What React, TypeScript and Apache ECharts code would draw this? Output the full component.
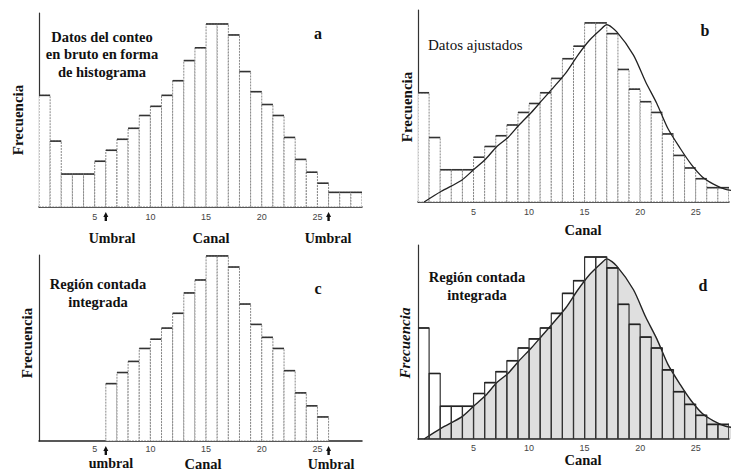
import React, { useEffect, useRef } from "react";
import * as echarts from "echarts";

// Counts per channel (channels 0..28)
const channels = [0, 1, 2, 3, 4, 5, 6, 7, 8, 9, 10, 11, 12, 13, 14, 15, 16, 17, 18, 19, 20, 21, 22, 23, 24, 25, 26, 27, 28];
const counts = [61, 36, 18, 18, 18, 25, 31, 37, 43, 50, 55, 61, 69, 80, 87, 100, 100, 94, 74, 63, 56, 50, 38, 26, 19, 13, 8, 8, 8];
// Thresholds (Umbral)
const thresholds = [6, 26];
// Fitted curve
const fitX = [0.55, 2.1, 3.9, 5, 6.1, 7.1, 8.1, 9.1, 10.2, 11.2, 12.2, 13.3, 14.4, 15.4, 16.4, 17, 17.9, 19.4, 20.5, 21.5, 22.5, 23.6, 24.6, 25.6, 26.6, 27.7, 28.8];
const fitY = [0, 6, 12, 18, 24, 31, 36, 43, 50, 57, 64, 72, 82, 90, 96, 99, 95, 82, 67, 55, 41, 30, 21, 14, 10, 7, 6];
const tickLabels = ["5", "10", "15", "20", "25"];

const SERIF = "'Liberation Serif', 'DejaVu Serif', serif";

function histRender(opts: { fill: string; stroke: string; lineWidth: number; dash?: number[]; top: string }) {
  return (params: any, api: any) => {
    const k = api.value(0);
    const v = api.value(1);
    const p0 = api.coord([k, 0]);
    const p1 = api.coord([k + 1, v]);
    return {
      type: "group",
      children: [
        {
          type: "rect",
          shape: { x: p0[0], y: p1[1], width: p1[0] - p0[0], height: p0[1] - p1[1] },
          style: { fill: opts.fill, stroke: opts.stroke, lineWidth: opts.lineWidth, lineDash: opts.dash || null },
        },
        {
          type: "line",
          shape: { x1: p0[0], y1: p1[1], x2: p1[0], y2: p1[1] },
          style: { stroke: opts.top, lineWidth: 1.6 },
        },
      ],
    };
  };
}

export default function App() {
  const ref = useRef<HTMLDivElement>(null);
  useEffect(() => {
    if (!ref.current) return;
    const chart = echarts.init(ref.current, null, { renderer: "svg" });
    const histData = channels.map((c, i) => [c, counts[i]]);
    const regionData = histData.filter((d) => d[0] >= thresholds[0] && d[0] < thresholds[1]);
    const fitData = fitX.map((x, i) => [x, fitY[i]]);

    const grids = [
      { left: 39, top: 13, width: 323, height: 194 },
      { left: 418, top: 10, width: 313, height: 192 },
      { left: 39, top: 255, width: 323, height: 186 },
      { left: 418, top: 245, width: 313, height: 194 },
    ];
    const xMax = [29, 28, 29, 28];
    const yMax = [106, 107.2, 100.5, 106.6];
    const labelMargin = [5, 5, 3, 4];
    const labelFmt = (v: number) => (tickLabels.indexOf(String(v)) >= 0 ? String(v) : "");

    const xAxes = grids.map((g, i) => ({
      type: "value",
      gridIndex: i,
      min: 0,
      max: xMax[i],
      interval: 5,
      axisLine: { show: true, lineStyle: { color: "#222", width: 1.5 } },
      axisTick: { show: false },
      splitLine: { show: false },
      axisLabel: { formatter: labelFmt, fontSize: 9, color: "#444", margin: labelMargin[i], fontFamily: "'Liberation Sans', sans-serif" },
    }));
    const yAxes = grids.map((g, i) => ({
      type: "value",
      gridIndex: i,
      min: 0,
      max: yMax[i],
      axisLine: { show: true, lineStyle: { color: "#333", width: 1.2 } },
      axisTick: { show: false },
      axisLabel: { show: false },
      splitLine: { show: false },
    }));

    const plainBars = histRender({ fill: "#fff", stroke: "#888", lineWidth: 1, dash: [2, 1], top: "#333" });

    const series: any[] = [
      { type: "custom", xAxisIndex: 0, yAxisIndex: 0, data: histData, renderItem: plainBars, clip: true },
      { type: "custom", xAxisIndex: 1, yAxisIndex: 1, data: histData, renderItem: plainBars, clip: true },
      {
        type: "line", xAxisIndex: 1, yAxisIndex: 1, data: fitData, smooth: 0.25, showSymbol: false,
        lineStyle: { color: "#222", width: 1.3 }, z: 5,
      },
      { type: "custom", xAxisIndex: 2, yAxisIndex: 2, data: regionData, renderItem: plainBars, clip: true },
      {
        type: "line", xAxisIndex: 3, yAxisIndex: 3, data: fitData, smooth: 0.25, showSymbol: false,
        lineStyle: { color: "#222", width: 1.4 }, areaStyle: { color: "rgba(140,140,140,0.4)" }, z: 1,
      },
      {
        type: "custom", xAxisIndex: 3, yAxisIndex: 3, data: histData, clip: true, z: 3,
        renderItem: histRender({ fill: "none", stroke: "#333", lineWidth: 1.2, top: "#222" }),
      },
    ];

    const txt = (x: number, y: number, text: string, o: any = {}) => ({
      type: "text",
      x,
      y,
      rotation: o.rotation || 0,
      style: {
        text,
        fill: "#111",
        font: `${o.italic ? "italic " : ""}${o.weight || "bold"} ${o.size || 14}px ${SERIF}`,
        textAlign: o.align || "center",
        textVerticalAlign: "middle",
        lineHeight: o.lh || 17.5,
      },
      z: 10,
    });

    const graphics: any[] = [
      // a
      txt(18, 120, "Frecuencia", { rotation: Math.PI / 2, size: 15 }),
      txt(102, 54, "Datos del conteo\nen bruto en forma\nde histograma", { size: 14.5 }),
      txt(318, 33, "a", { size: 16 }),
      txt(112, 238, "Umbral"),
      txt(211, 238, "Canal", { size: 14.5 }),
      txt(328, 238, "Umbral"),
      // b
      txt(407, 107, "Frecuencia", { rotation: Math.PI / 2, size: 15 }),
      txt(428, 45, "Datos ajustados", { weight: "normal", align: "left", size: 15 }),
      txt(705, 30, "b", { size: 16 }),
      txt(583, 230, "Canal", { size: 14.5 }),
      // c
      txt(27, 343, "Frecuencia", { rotation: Math.PI / 2, size: 15 }),
      txt(98, 293, "Región contada\nintegrada", { size: 14.5 }),
      txt(318, 288, "c", { size: 16 }),
      txt(111, 463, "umbral"),
      txt(203, 464, "Canal", { size: 14.5 }),
      txt(331, 464, "Umbral"),
      // d
      txt(405, 343, "Frecuencia", { rotation: Math.PI / 2, italic: true, size: 15 }),
      txt(477, 286, "Región contada\nintegrada", { size: 14.5 }),
      txt(703, 285, "d", { size: 16 }),
      txt(583, 460, "Canal", { size: 14.5 }),
    ];

    chart.setOption({
      animation: false,
      backgroundColor: "#fff",
      grid: grids,
      xAxis: xAxes,
      yAxis: yAxes,
      series,
      graphic: graphics,
    });

    // Threshold arrows beneath the axis in panels a and c
    const arrows: any[] = [];
    [0, 2].forEach((gi) => {
      thresholds.forEach((t) => {
        const p = chart.convertToPixel({ gridIndex: gi } as any, [t, 0]) as number[];
        const tipY = p[1] + 5;
        arrows.push({
          type: "polygon",
          shape: { points: [[p[0], tipY], [p[0] - 2.5, tipY + 5], [p[0] + 2.5, tipY + 5]] },
          style: { fill: "#111" },
          z: 10,
        });
        arrows.push({
          type: "rect",
          shape: { x: p[0] - 1.2, y: tipY + 4, width: 2.4, height: 5 },
          style: { fill: "#111" },
          z: 10,
        });
      });
    });
    chart.setOption({ graphic: graphics.concat(arrows) });

    return () => chart.dispose();
  }, []);
  return <div ref={ref} style={{ position: "fixed", left: 0, top: 0, width: 732, height: 474 }} />;
}
